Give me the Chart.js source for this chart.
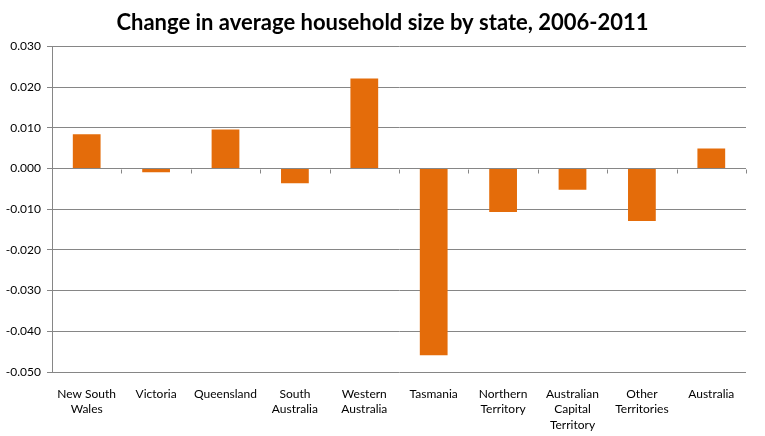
<!DOCTYPE html>
<html>
<head>
<meta charset="utf-8">
<script src="https://cdn.jsdelivr.net/npm/chart.js@4/dist/chart.umd.min.js"></script>
<style>
  html, body { margin: 0; padding: 0; background: #fff; }
  #wrap { width: 765px; height: 436px; }
</style>
</head>
<body>
<div id="wrap"><canvas id="chart"></canvas></div>
<script>
// categories (split into lines like the original axis)
const states = [
    ['New South', 'Wales'],
    'Victoria',
    'Queensland',
    ['South', 'Australia'],
    ['Western', 'Australia'],
    'Tasmania',
    ['Northern', 'Territory'],
    ['Australian', 'Capital', 'Territory'],
    ['Other', 'Territories'],
    'Australia'
];
// change in average household size, 2006-2011
const sizeChange = [0.0084, -0.0009, 0.0096, -0.0036, 0.0221, -0.0459, -0.0107, -0.0052, -0.0129, 0.0049];
const yMin = -0.05;
const yMax = 0.03;
const yStep = 0.01;

const axisGrey = '#868686';

// small tick marks hanging off the zero line between categories (Excel style)
const zeroTicks = {
    id: 'zeroTicks',
    afterDatasetsDraw(chart) {
        const x = chart.scales.x, y = chart.scales.y;
        const ctx = chart.ctx;
        const y0 = Math.round(y.getPixelForValue(0)) + 0.5;
        const half = (x.getPixelForTick(1) - x.getPixelForTick(0)) / 2;
        ctx.save();
        ctx.strokeStyle = axisGrey;
        ctx.lineWidth = 1;
        ctx.beginPath();
        for (let i = 0; i < states.length; i++) {
            const bx = Math.round(x.getPixelForTick(i) + half) + 0.5;
            ctx.moveTo(bx, y0);
            ctx.lineTo(bx, y0 + 4);
        }
        ctx.stroke();
        ctx.restore();
    }
};

new Chart(document.getElementById('chart').getContext('2d'), {
    type: 'bar',
    data: {
        labels: states,
        datasets: [{
            label: 'Change in average household size',
            data: sizeChange,
            yAxisID: 'y',
            backgroundColor: '#E46C0A',
            borderWidth: 0,
            categoryPercentage: 1,
            barPercentage: 0.4
        }]
    },
    options: {
        responsive: true,
        maintainAspectRatio: false,
        animation: false,
        layout: { padding: { left: 0, right: 0, top: 10, bottom: 0 } },
        plugins: {
            legend: { display: false },
            tooltip: { enabled: false },
            title: {
                display: true,
                text: 'Change in average household size by state, 2006-2011',
                color: '#000',
                font: { family: 'Lato', size: 22, weight: 'bold' },
                padding: { top: 0, bottom: 10 }
            }
        },
        scales: {
            x: {
                grid: { display: false },
                border: { display: false },
                ticks: {
                    color: '#000',
                    font: { family: 'Lato', size: 12, lineHeight: 1.3 },
                    padding: 6,
                    maxRotation: 0,
                    autoSkip: false
                },
                afterFit(scale) { scale.height = 64; }
            },
            y: {
                min: yMin,
                max: yMax,
                grid: { color: axisGrey, lineWidth: 1, tickLength: 5 },
                border: { color: axisGrey },
                ticks: {
                    stepSize: yStep,
                    color: '#000',
                    font: { family: 'Lato', size: 12 },
                    padding: 6,
                    callback: v => v.toFixed(3)
                },
                afterFit(scale) { scale.width = 52; }
            },
            // empty right margin so the title stays centred on the whole page
            yRight: {
                position: 'right',
                min: yMin,
                max: yMax,
                grid: { display: false },
                border: { display: false },
                ticks: { display: false },
                afterFit(scale) { scale.width = 19; }
            }
        }
    },
    plugins: [zeroTicks]
});
</script>
</body>
</html>
